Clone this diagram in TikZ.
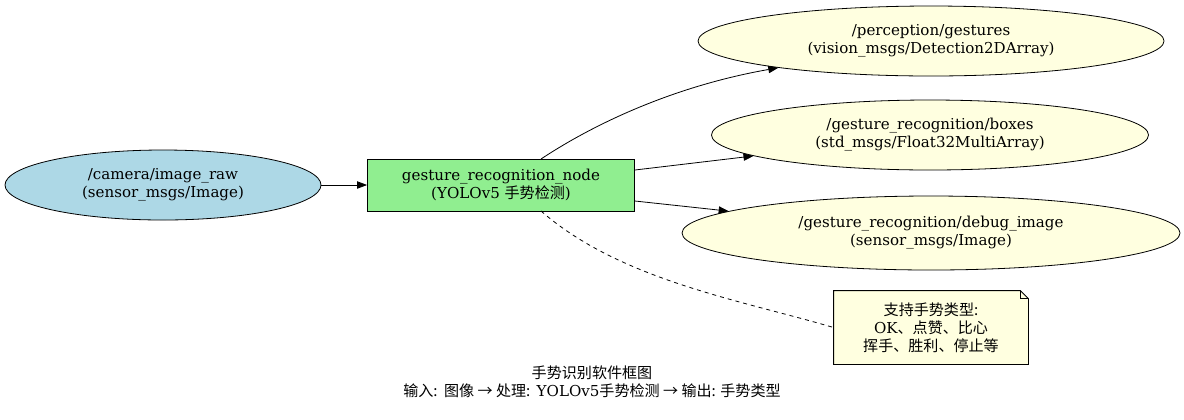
\documentclass[tikz,border=0pt]{standalone}
\usepackage{fontspec}
\setmainfont{DejaVu Serif}
\newfontfamily\cjk{Noto Sans CJK SC}
\usetikzlibrary{shapes.geometric,arrows.meta}
\definecolor{lblue}{HTML}{ADD8E6}
\definecolor{lgreen}{HTML}{90EE90}
\definecolor{lyellow}{HTML}{FFFFE0}
\begin{document}
\begin{tikzpicture}[x=0.75pt,y=-0.75pt,
  every node/.style={font=\fontsize{11.3}{13.5}\selectfont,align=center,inner sep=0pt},
  topic/.style={draw,ellipse,fill=lyellow},
  arr/.style={-{Triangle[length=7.5pt,width=5.5pt]},line width=0.6pt},
  line width=0.6pt]
\useasboundingbox (0,0) rectangle (1184,419);
\node[draw,ellipse,fill=lblue,minimum width=316*0.75pt,minimum height=70*0.75pt] (cam) at (163,185) {/camera/image\_raw\\(sensor\_msgs/Image)};
\node[draw,rectangle,fill=lgreen,minimum width=267*0.75pt,minimum height=52*0.75pt] (gr) at (501,185) {gesture\_recognition\_node\\(YOLOv5 {\cjk 手势检测})};
\node[topic,minimum width=466*0.75pt,minimum height=70*0.75pt] (per) at (931,41) {/perception/gestures\\(vision\_msgs/Detection2DArray)};
\node[topic,minimum width=437*0.75pt,minimum height=70*0.75pt] (box) at (930,135) {/gesture\_recognition/boxes\\(std\_msgs/Float32MultiArray)};
\node[topic,minimum width=498*0.75pt,minimum height=74*0.75pt] (dbg) at (931,233) {/gesture\_recognition/debug\_image\\(sensor\_msgs/Image)};
\node[minimum width=194*0.75pt,minimum height=73*0.75pt] (note) at (931,327.5) {};
\draw[fill=lyellow] (note.north west) -- ([xshift=-6pt]note.north east) -- ([yshift=-6pt]note.north east) -- (note.south east) -- (note.south west) -- cycle;
\draw ([xshift=-6pt]note.north east) -- ([xshift=-6pt,yshift=-6pt]note.north east) -- ([yshift=-6pt]note.north east);
\node (notetext) at (note) {{\cjk 支持手势类型:}\\OK{\cjk 、点赞、比心}\\{\cjk 挥手、胜利、停止等}};
\node (cap) at (592,382) {{\cjk 手势识别软件框图}\\{\cjk 输入:} {\cjk 图像 → 处理:} YOLOv5{\cjk 手势检测 → 输出: 手势类型}};
\draw[arr] (cam) -- (gr);
\draw[arr] (541,159) .. controls (600,120) and (680,85) .. (per);
\draw[arr] (gr.east |- 0,170) -- (box);
\draw[arr] (gr.east |- 0,201) -- (dbg);
\draw[dashed] (541,211) .. controls (620,280) and (740,300) .. (note.west);
\end{tikzpicture}
\end{document}
